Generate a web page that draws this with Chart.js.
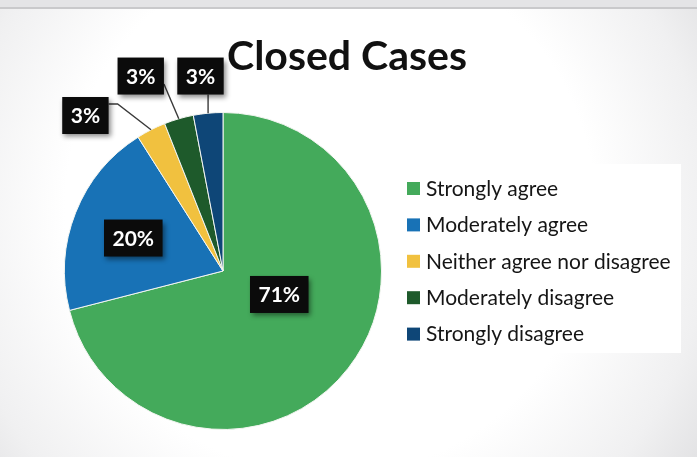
<!DOCTYPE html>
<html>
<head>
<meta charset="utf-8">
<script src="https://cdn.jsdelivr.net/npm/chart.js@4/dist/chart.umd.min.js"></script>
<style>
  html, body { margin: 0; padding: 0; background: #e6e6e8; }
  #wrap { width: 697px; height: 457px; }
</style>
</head>
<body>
<div id="wrap"><canvas id="c" width="697" height="457"></canvas></div>
<script>
// Survey responses for closed cases
const chartTitle = 'Closed Cases';
const categories = [
  'Strongly agree',
  'Moderately agree',
  'Neither agree nor disagree',
  'Moderately disagree',
  'Strongly disagree'
];
const percentages = [71, 20, 3, 3, 3];
const sliceColors = ['#44aa5b', '#1872b6', '#f1c13f', '#1e5a2b', '#0e4677'];

// Where each value box sits, as a fraction of the radius from the pie centre
const labelSpots = [
  { fx: 0.355, fy: 0.148 },
  { fx: -0.566, fy: -0.208 },
  { fx: -0.868, fy: -0.981, leader: 'elbow' },
  { fx: -0.519, fy: -1.230, leader: 'side' },
  { fx: -0.142, fy: -1.230, leader: 'below' }
];

const FONT = 'Lato, "Liberation Sans", sans-serif';

const decorations = {
  id: 'decorations',
  beforeDraw(chart) {
    const ctx = chart.ctx;
    const W = chart.width, H = chart.height;
    ctx.save();
    ctx.fillStyle = '#e4e4e6';
    ctx.fillRect(0, 0, W, H);
    const g = ctx.createRadialGradient(330, 200, 60, 330, 220, 470);
    g.addColorStop(0, '#ffffff');
    g.addColorStop(0.5, '#ffffff');
    g.addColorStop(0.78, '#f0f0f1');
    g.addColorStop(1, '#dcdcde');
    ctx.fillStyle = g;
    ctx.fillRect(0, 9, W, H - 9);
    // edge of the sheet
    ctx.fillStyle = '#c9c9cb';
    ctx.fillRect(0, 7, W, 2);
    // legend panel
    ctx.fillStyle = '#ffffff';
    ctx.fillRect(396, 164, 285, 189);
    ctx.restore();
  },
  afterDraw(chart) {
    const ctx = chart.ctx;
    const meta = chart.getDatasetMeta(0);
    ctx.save();

    // title
    ctx.fillStyle = '#111111';
    ctx.font = 'bold 41px ' + FONT;
    ctx.textAlign = 'center';
    ctx.textBaseline = 'alphabetic';
    ctx.fillText(chartTitle, 347, 70);

    // legend
    ctx.font = '21px ' + FONT;
    ctx.textAlign = 'left';
    ctx.textBaseline = 'middle';
    categories.forEach((name, i) => {
      const y = 188 + i * 36.4;
      ctx.fillStyle = sliceColors[i];
      ctx.fillRect(407, y - 6, 13, 13);
      ctx.fillStyle = '#151515';
      ctx.fillText(name, 426, y + 1);
    });

    // value boxes with leader lines
    meta.data.forEach((arc, i) => {
      const p = arc.getProps(['x', 'y', 'startAngle', 'endAngle', 'outerRadius'], true);
      const R = p.outerRadius;
      const mid = (p.startAngle + p.endAngle) / 2;
      const ex = p.x + Math.cos(mid) * R;
      const ey = p.y + Math.sin(mid) * R;
      const spot = labelSpots[i];
      const bx = p.x + spot.fx * R;
      const by = p.y + spot.fy * R;
      const text = percentages[i] + '%';
      ctx.font = 'bold 21px ' + FONT;
      const tw = ctx.measureText(text).width;
      const w = tw + 17, h = 37;
      const left = bx - w / 2, top = by - h / 2;

      if (spot.leader) {
        ctx.strokeStyle = '#3a3a3a';
        ctx.lineWidth = 1.4;
        ctx.beginPath();
        if (spot.leader === 'elbow') {
          ctx.moveTo(left + w, top + 7);
          ctx.lineTo(left + w + 9, top + 7);
          ctx.lineTo(ex, ey);
        } else if (spot.leader === 'side') {
          ctx.moveTo(left + w, by + 8);
          ctx.lineTo(ex, ey);
        } else {
          ctx.moveTo(ex, top + h);
          ctx.lineTo(ex, ey);
        }
        ctx.stroke();
      }

      ctx.save();
      ctx.shadowColor = 'rgba(0,0,0,0.45)';
      ctx.shadowBlur = 5;
      ctx.shadowOffsetX = 2;
      ctx.shadowOffsetY = 3;
      ctx.fillStyle = '#0b0b0b';
      ctx.fillRect(left, top, w, h);
      ctx.restore();

      ctx.fillStyle = '#ffffff';
      ctx.textAlign = 'center';
      ctx.textBaseline = 'middle';
      ctx.fillText(text, bx, by + 1);
    });
    ctx.restore();
  }
};

new Chart(document.getElementById('c'), {
  type: 'pie',
  data: {
    labels: categories,
    datasets: [{
      data: percentages,
      backgroundColor: sliceColors,
      borderColor: '#f4f6f2',
      borderWidth: 1
    }]
  },
  options: {
    responsive: false,
    animation: false,
    layout: { padding: { left: 64, right: 315, top: 112, bottom: 27 } },
    plugins: {
      legend: { display: false },
      tooltip: { enabled: false },
      title: { display: false }
    }
  },
  plugins: [decorations]
});
</script>
</body>
</html>
